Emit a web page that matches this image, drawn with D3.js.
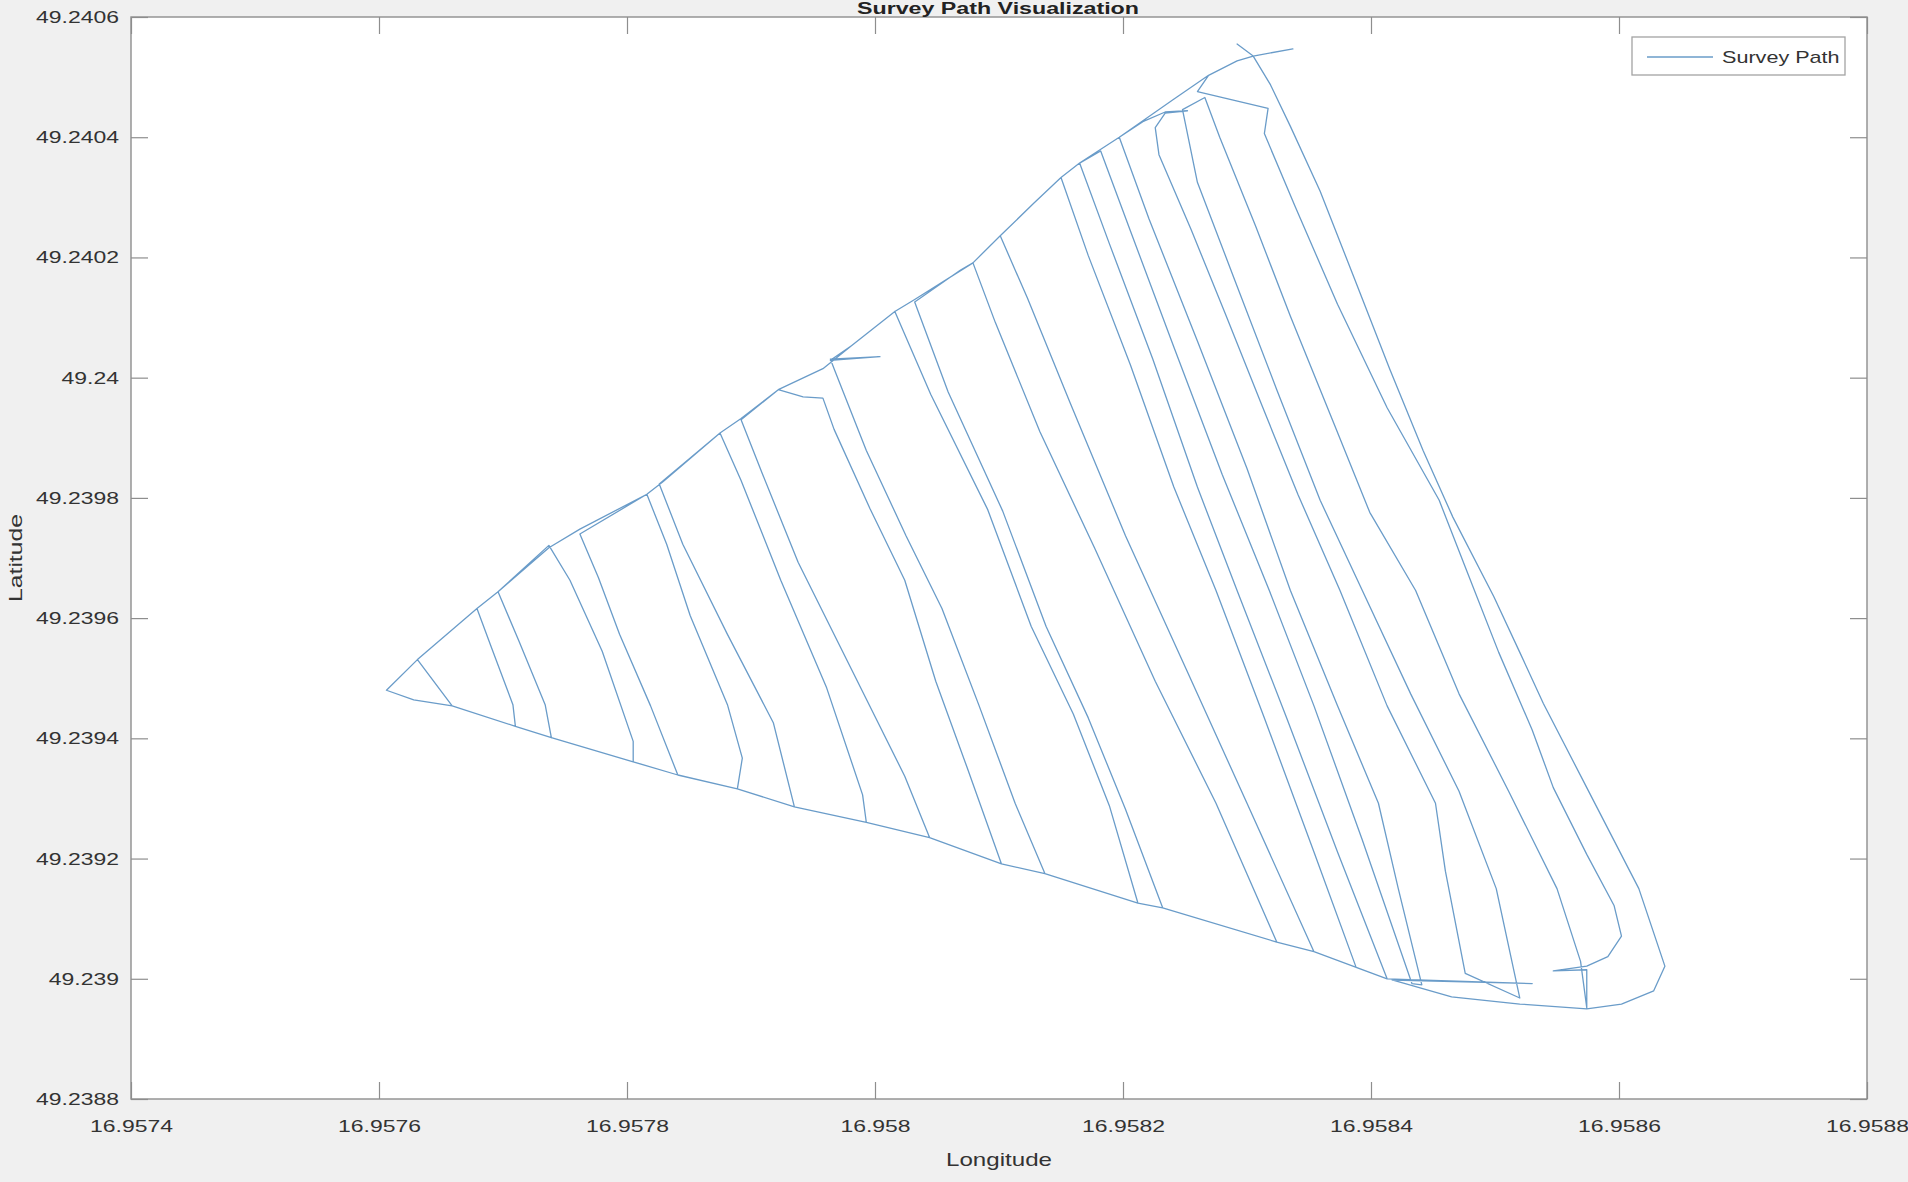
<!DOCTYPE html>
<html><head><meta charset="utf-8">
<script src="https://cdn.jsdelivr.net/npm/d3@7"></script>
<style>html,body{margin:0;padding:0;background:#f0f0f0;} svg{display:block;}</style>
</head><body>
<svg id="chart" width="1908" height="1182"></svg>
<script>
const titleText = "Survey Path Visualization";
const xLabelText = "Longitude";
const yLabelText = "Latitude";
const seriesName = "Survey Path";

const xTickValues = [16.9574, 16.9576, 16.9578, 16.9580, 16.9582, 16.9584, 16.9586, 16.9588];
const xTickLabels = ["16.9574","16.9576","16.9578","16.958","16.9582","16.9584","16.9586","16.9588"];
const yTickValues = [49.2388, 49.2390, 49.2392, 49.2394, 49.2396, 49.2398, 49.2400, 49.2402, 49.2404, 49.2406];
const yTickLabels = ["49.2388","49.239","49.2392","49.2394","49.2396","49.2398","49.24","49.2402","49.2404","49.2406"];

const longitude = [
16.958337,16.958305,16.958292,16.958269,16.958240,16.958197,16.958165,16.958150,16.958128,16.958101,
16.958079,16.958032,16.958016,16.957981,16.957958,16.957922,16.957892,16.957875,16.957829,16.957816,
16.957762,16.957737,16.957696,16.957679,16.957631,16.957606,16.957628,16.957659,16.957631,16.957679,
16.957690,16.957708,16.957710,16.957739,16.957734,16.957713,16.957696,16.957737,16.957754,16.957780,
16.957805,16.957805,16.957841,16.957819,16.957794,16.957777,16.957762,16.957816,16.957832,16.957851,
16.957881,16.957893,16.957889,16.957935,16.957918,16.957881,16.957845,16.957826,16.957875,16.957892,
16.957924,16.957961,16.957990,16.957993,16.958044,16.958024,16.957981,16.957938,16.957909,16.957892,
16.957922,16.957942,16.957958,16.957967,16.957996,16.958024,16.958049,16.958074,16.958102,16.958137,
16.958113,16.958084,16.958054,16.958025,16.957993,16.957967,16.957964,16.958004,16.957964,16.957981,
16.958016,16.958045,16.958091,16.958126,16.958160,16.958189,16.958212,16.958232,16.958202,16.958172,
16.958138,16.958103,16.958059,16.958032,16.958069,16.958079,16.958097,16.958133,16.958177,16.958226,
16.958275,16.958324,16.958354,16.958300,16.958251,16.958202,16.958157,16.958123,16.958101,16.958128,
16.958150,16.958172,16.958206,16.958241,16.958275,16.958314,16.958354,16.958388,16.958413,16.958373,
16.958332,16.958292,16.958260,16.958224,16.958189,16.958165,16.958182,16.958206,16.958241,16.958280,
16.958318,16.958354,16.958393,16.958433,16.958441,16.958422,16.958406,16.958373,16.958335,16.958300,
16.958260,16.958221,16.958197,16.958216,16.958234,16.958252,16.958234,16.958226,16.958229,16.958255,
16.958283,16.958312,16.958341,16.958375,16.958413,16.958452,16.958460,16.958476,16.958520,16.958501,
16.958471,16.958432,16.958393,16.958359,16.958324,16.958290,16.958260,16.958248,16.958266,16.958278,
16.958307,16.958335,16.958370,16.958399,16.958436,16.958471,16.958511,16.958550,16.958569,16.958574,
16.958574,16.958547,16.958574,16.958591,16.958602,16.958596,16.958574,16.958547,16.958530,16.958503,
16.958476,16.958455,16.958413,16.958373,16.958339,16.958314,16.958317,16.958260,16.958269,16.958292,
16.958305,16.958292,16.958305,16.958319,16.958335,16.958359,16.958387,16.958415,16.958442,16.958466,
16.958499,16.958520,16.958539,16.958574,16.958616,16.958637,16.958628,16.958602,16.958574,16.958520,
16.958465,16.958417,16.958530,16.958413,16.958354,16.958324,16.958232,16.958212,16.958137,16.958102,
16.958044,16.957993,16.957935,16.957889,16.957841,16.957805,16.957739,16.957710,16.957659,16.957628,
16.957606
];
const latitude = [
49.240547,49.240535,49.240527,49.240503,49.240462,49.240400,49.240357,49.240333,49.240290,49.240236,
49.240191,49.240130,49.240110,49.240053,49.240015,49.239980,49.239932,49.239908,49.239827,49.239806,
49.239748,49.239717,49.239644,49.239616,49.239531,49.239480,49.239464,49.239454,49.239531,49.239616,
49.239555,49.239456,49.239420,49.239401,49.239456,49.239561,49.239644,49.239721,49.239663,49.239545,
49.239395,49.239361,49.239339,49.239454,49.239573,49.239667,49.239740,49.239806,49.239723,49.239604,
49.239456,49.239367,49.239316,49.239286,49.239426,49.239573,49.239723,49.239823,49.239908,49.239829,
49.239663,49.239484,49.239306,49.239260,49.239235,49.239337,49.239515,49.239693,49.239841,49.239930,
49.239980,49.239968,49.239966,49.239914,49.239782,49.239663,49.239495,49.239353,49.239191,49.239175,
49.239292,49.239454,49.239616,49.239737,49.239879,49.240015,49.240031,49.240035,49.240029,49.240053,
49.240110,49.239972,49.239780,49.239586,49.239440,49.239288,49.239126,49.239118,49.239282,49.239434,
49.239586,49.239778,49.239976,49.240126,49.240179,49.240191,49.240092,49.239910,49.239717,49.239495,
49.239292,49.239061,49.239045,49.239292,49.239515,49.239737,49.239960,49.240132,49.240236,49.240290,
49.240333,49.240203,49.240021,49.239818,49.239646,49.239434,49.239211,49.239019,49.239000,49.239211,
49.239434,49.239646,49.239818,49.240031,49.240223,49.240357,49.240377,49.240244,49.240051,49.239839,
49.239646,49.239454,49.239231,49.238992,49.238990,49.239150,49.239292,49.239454,49.239646,49.239849,
49.240061,49.240264,49.240400,49.240426,49.240442,49.240444,49.240440,49.240416,49.240371,49.240246,
49.240104,49.239954,49.239806,49.239646,49.239454,49.239292,49.239179,49.239009,49.238968,49.239150,
49.239312,49.239474,49.239646,49.239796,49.239980,49.240163,49.240325,49.240446,49.240466,49.240400,
49.240252,49.240102,49.239924,49.239776,49.239646,49.239474,49.239312,49.239150,49.239029,49.238952,
49.239015,49.239013,49.239021,49.239037,49.239071,49.239122,49.239207,49.239318,49.239414,49.239543,
49.239685,49.239796,49.239950,49.240122,49.240284,49.240406,49.240448,49.240476,49.240503,49.240527,
49.240535,49.240555,49.240535,49.240487,49.240418,49.240310,49.240163,49.240015,49.239879,49.239768,
49.239636,49.239543,49.239458,49.239318,49.239150,49.239021,49.238980,49.238958,49.238950,49.238958,
49.238970,49.238998,49.238992,49.239000,49.239045,49.239061,49.239118,49.239126,49.239175,49.239191,
49.239235,49.239260,49.239286,49.239316,49.239339,49.239361,49.239401,49.239420,49.239454,49.239464,
49.239480
];

const FONT = "'Liberation Sans', Arial, Helvetica, sans-serif";
const TEXT_COLOR = "#333333";
const AXIS_COLOR = "#8e8e8e";
const PATH_COLOR = "#6a9cc9";
const STRETCH = 1.35;

const plot = {left: 131, right: 1867, top: 17, bottom: 1099};
const svg = d3.select("#chart");

const x = d3.scaleLinear().domain(d3.extent(xTickValues)).range([plot.left, plot.right]);
const y = d3.scaleLinear().domain(d3.extent(yTickValues)).range([plot.bottom, plot.top]);

svg.append("rect")
  .attr("x", plot.left).attr("y", plot.top)
  .attr("width", plot.right - plot.left).attr("height", plot.bottom - plot.top)
  .attr("fill", "#ffffff");

svg.append("clipPath").attr("id", "clip").append("rect")
  .attr("x", plot.left).attr("y", plot.top)
  .attr("width", plot.right - plot.left).attr("height", plot.bottom - plot.top);

const pts = d3.zip(longitude, latitude);
const line = d3.line().x(d => x(d[0])).y(d => y(d[1]));
svg.append("path")
  .datum(pts)
  .attr("clip-path", "url(#clip)")
  .attr("d", line)
  .attr("fill", "none")
  .attr("stroke", PATH_COLOR)
  .attr("stroke-width", 1.3)
  .attr("stroke-linejoin", "round")
  .attr("stroke-linecap", "round");

function styleAxis(g, showLabels) {
  g.attr("font-family", FONT).attr("font-size", 17);
  g.select(".domain").remove();
  g.selectAll(".tick line").attr("stroke", AXIS_COLOR).attr("stroke-width", 1.2);
  g.selectAll(".tick text").attr("fill", TEXT_COLOR);
  if (!showLabels) g.selectAll(".tick text").remove();
}

const xAxisB = svg.append("g").attr("transform", `translate(0,${plot.bottom})`)
  .call(d3.axisBottom(x).tickValues(xTickValues).tickFormat((d, i) => xTickLabels[i])
    .tickSizeInner(-17).tickSizeOuter(0).tickPadding(21));
styleAxis(xAxisB, true);
const xAxisT = svg.append("g").attr("transform", `translate(0,${plot.top})`)
  .call(d3.axisTop(x).tickValues(xTickValues).tickSizeInner(-17).tickSizeOuter(0));
styleAxis(xAxisT, false);
const yAxisL = svg.append("g").attr("transform", `translate(${plot.left},0)`)
  .call(d3.axisLeft(y).tickValues(yTickValues).tickFormat((d, i) => yTickLabels[i])
    .tickSizeInner(-17).tickSizeOuter(0).tickPadding(12));
styleAxis(yAxisL, true);
const yAxisR = svg.append("g").attr("transform", `translate(${plot.right},0)`)
  .call(d3.axisRight(y).tickValues(yTickValues).tickSizeInner(-17).tickSizeOuter(0));
styleAxis(yAxisR, false);

svg.append("rect")
  .attr("x", plot.left).attr("y", plot.top)
  .attr("width", plot.right - plot.left).attr("height", plot.bottom - plot.top)
  .attr("fill", "none").attr("stroke", AXIS_COLOR).attr("stroke-width", 1.4);

function stretch(sel, factor) {
  sel.each(function() {
    const w = this.getComputedTextLength();
    d3.select(this).attr("textLength", w * factor).attr("lengthAdjust", "spacingAndGlyphs");
  });
}
stretch(svg.selectAll(".tick text"), STRETCH);

const xl = svg.append("text")
  .attr("x", (plot.left + plot.right) / 2).attr("y", 1166)
  .attr("text-anchor", "middle").attr("font-family", FONT).attr("font-size", 19)
  .attr("fill", TEXT_COLOR).text(xLabelText);
stretch(xl, 1.27);

const yl = svg.append("text")
  .attr("transform", `translate(22,558) rotate(-90)`)
  .attr("text-anchor", "middle").attr("font-family", FONT).attr("font-size", 19)
  .attr("fill", TEXT_COLOR).text(yLabelText);
stretch(yl, 1.3);

// title: kept fully inside the canvas
const tt = svg.append("text")
  .attr("x", 998).attr("y", 14)
  .attr("text-anchor", "middle").attr("font-family", FONT).attr("font-size", 16)
  .attr("font-weight", "bold").attr("fill", "#222222").text(titleText);
stretch(tt, 1.45);

const lg = svg.append("g");
lg.append("rect").attr("x", 1632).attr("y", 37).attr("width", 213).attr("height", 38)
  .attr("fill", "#ffffff").attr("stroke", "#a3a3a3").attr("stroke-width", 1.3);
lg.append("line").attr("x1", 1647).attr("x2", 1713).attr("y1", 57).attr("y2", 57)
  .attr("stroke", PATH_COLOR).attr("stroke-width", 1.3);
const lt = lg.append("text").attr("x", 1722).attr("y", 63)
  .attr("font-family", FONT).attr("font-size", 17).attr("fill", TEXT_COLOR).text(seriesName);
stretch(lt, 1.27);
</script>
</body></html>
